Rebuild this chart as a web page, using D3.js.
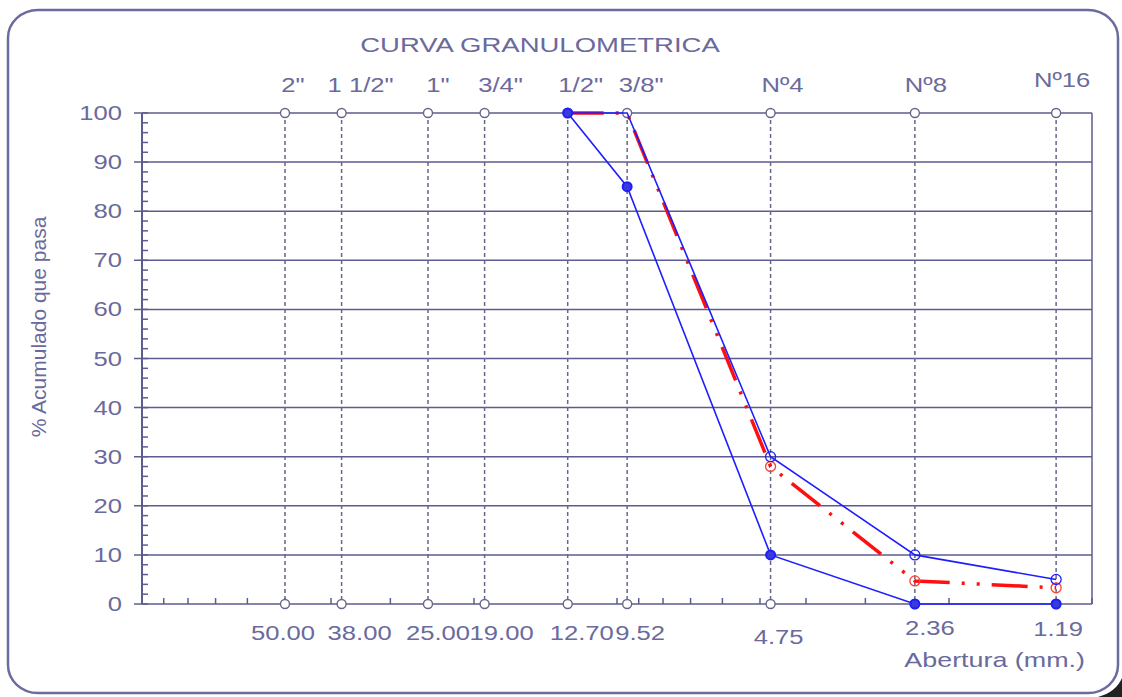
<!DOCTYPE html>
<html>

<head>
	<meta charset="UTF-8" />
	<title>Curva Granulometrica</title>
	<script src="https://d3js.org/d3.v7.min.js"></script>
	<style>
		body {
			margin: 0;
			background: white;
		}

		text {
			font-family: "Liberation Sans", Arial, sans-serif;
			fill: #6a6a9c;
		}
	</style>
</head>

<body>
	<div id="main"></div>

	<script type="text/javascript">
		// sieves
		var sieveNames = ['2"', '1 1/2"', '1"', '3/4"', '1/2"', '3/8"', 'Nº4', 'Nº8', 'Nº16'];
		var sieveSizes = [50.00, 38.00, 25.00, 19.00, 12.70, 9.52, 4.75, 2.36, 1.19];
		var sizeLabels = ['50.00', '38.00', '25.00', '19.00', '12.70', '9.52', '4.75', '2.36', '1.19'];

		// curves
		var curveSizes = [12.70, 9.52, 4.75, 2.36, 1.19];
		var upperLimit = [100, 100, 30, 10, 5];
		var lowerLimit = [100, 85, 10, 0, 0];
		var sample = [100, 100, 28, 4.7, 3.3];

		var yTicks = [0, 10, 20, 30, 40, 50, 60, 70, 80, 90, 100];

		// label nudges (layout only)
		var topDx = [8, 19, 10, 16, 13, 14, 12, 11, 6];
		var topDy = [0, 0, 0, 0, 0, 0, 0, 0, -5];
		var botDx = [-2, 18, 10, 17, 14, 13, 8, 15, 2];
		var botDy = [0, 0, 0, 0, 0, 0, 4, -5, -4];

		var width = 1122, height = 697;
		var sx = 1.22; // text is a bit wide in the original
		var gridColor = '#5c5c90';
		var blue = '#1e1eff';

		var svg = d3.select('#main').append('svg').attr('width', width).attr('height', height);

		var x = d3.scaleLog().domain([100, 1]).range([142, 1092]);
		var y = d3.scaleLinear().domain([0, 100]).range([604, 113]);

		function label(g, txt, px, py, size, anchor, scaleX) {
			return g.append('text')
				.attr('transform', 'translate(' + px + ',' + py + ') scale(' + (scaleX || sx) + ',1)')
				.attr('text-anchor', anchor || 'middle')
				.attr('font-size', size + 'px')
				.text(txt);
		}

		// frame
		svg.append('path')
			.attr('d', 'M1122,678 L1122,697 L1098,697 Q1116,692 1122,678 Z')
			.attr('fill', '#222');
		svg.append('rect')
			.attr('x', 8).attr('y', 10).attr('width', 1110).attr('height', 683)
			.attr('rx', 30).attr('ry', 28)
			.attr('fill', 'white').attr('stroke', '#6c6c9c').attr('stroke-width', 2.5);

		// horizontal gridlines
		svg.append('g').selectAll('line').data(yTicks).enter().append('line')
			.attr('x1', 134).attr('x2', x.range()[1])
			.attr('y1', d => y(d)).attr('y2', d => y(d))
			.attr('stroke', gridColor).attr('stroke-width', 1.5);

		// plot borders
		svg.append('line').attr('x1', x.range()[0]).attr('x2', x.range()[0]).attr('y1', y(100)).attr('y2', y(0))
			.attr('stroke', gridColor).attr('stroke-width', 2);
		svg.append('line').attr('x1', x.range()[1]).attr('x2', x.range()[1]).attr('y1', y(100)).attr('y2', y(0))
			.attr('stroke', gridColor).attr('stroke-width', 1.5);

		// y minor ticks
		svg.append('g').selectAll('line').data(d3.range(0, 101, 2)).enter().append('line')
			.attr('x1', x.range()[0]).attr('x2', x.range()[0] + 6)
			.attr('y1', d => y(d)).attr('y2', d => y(d))
			.attr('stroke', gridColor).attr('stroke-width', 1.5);

		// x minor ticks (log)
		svg.append('g').selectAll('line').data(x.ticks()).enter().append('line')
			.attr('x1', d => x(d)).attr('x2', d => x(d))
			.attr('y1', y(0)).attr('y2', y(0) - 6)
			.attr('stroke', gridColor).attr('stroke-width', 1.5);

		// sieve verticals
		var sieves = svg.append('g');
		sieves.selectAll('line').data(sieveSizes).enter().append('line')
			.attr('x1', d => x(d)).attr('x2', d => x(d))
			.attr('y1', y(100)).attr('y2', y(0))
			.attr('stroke', '#66668a').attr('stroke-width', 1.5).attr('stroke-dasharray', '4,3');
		sieves.selectAll('circle.top').data(sieveSizes).enter().append('circle')
			.attr('class', 'top')
			.attr('cx', d => x(d)).attr('cy', y(100)).attr('r', 4.5)
			.attr('fill', 'white').attr('stroke', '#66668a').attr('stroke-width', 1.4);
		sieves.selectAll('circle.bot').data(sieveSizes).enter().append('circle')
			.attr('class', 'bot')
			.attr('cx', d => x(d)).attr('cy', y(0)).attr('r', 4.5)
			.attr('fill', 'white').attr('stroke', '#66668a').attr('stroke-width', 1.4);

		// curves
		var line = d3.line().x(d => x(d[0])).y(d => y(d[1]));
		var sampleData = d3.zip(curveSizes, sample);
		var upperData = d3.zip(curveSizes, upperLimit);
		var lowerData = d3.zip(curveSizes, lowerLimit);

		svg.append('path').attr('d', line(sampleData))
			.attr('fill', 'none').attr('stroke', '#ff1010').attr('stroke-width', 3.5)
			.attr('stroke-dasharray', '36,12,3,12,3,12');
		svg.append('g').selectAll('circle').data(sampleData.slice(2)).enter().append('circle')
			.attr('cx', d => x(d[0])).attr('cy', d => y(d[1])).attr('r', 5)
			.attr('fill', 'none').attr('stroke', '#ff4030').attr('stroke-width', 1.3);

		svg.append('path').attr('d', line(upperData))
			.attr('fill', 'none').attr('stroke', blue).attr('stroke-width', 1.6);
		svg.append('path').attr('d', line(lowerData))
			.attr('fill', 'none').attr('stroke', blue).attr('stroke-width', 1.6);

		svg.append('g').selectAll('circle').data(upperData.slice(2)).enter().append('circle')
			.attr('cx', d => x(d[0])).attr('cy', d => y(d[1])).attr('r', 5)
			.attr('fill', 'none').attr('stroke', blue).attr('stroke-width', 1.3);
		svg.append('g').selectAll('circle').data(lowerData).enter().append('circle')
			.attr('cx', d => x(d[0])).attr('cy', d => y(d[1])).attr('r', 4.5)
			.attr('fill', '#3b3bd8').attr('stroke', blue).attr('stroke-width', 2);

		// texts
		var txt = svg.append('g');
		label(txt, 'CURVA GRANULOMETRICA', 540, 52, 21, 'middle', 1.31);
		yTicks.forEach(function (d) {
			label(txt, d, 122, y(d) + 7, 21, 'end');
		});
		sieveNames.forEach(function (d, i) {
			label(txt, d, x(sieveSizes[i]) + topDx[i], 92 + topDy[i], 21);
		});
		sizeLabels.forEach(function (d, i) {
			label(txt, d, x(sieveSizes[i]) + botDx[i], 640 + botDy[i], 21);
		});
		label(txt, 'Abertura (mm.)', 1085, 667, 21, 'end', 1.28);

		txt.append('text')
			.attr('transform', 'translate(46,327) rotate(-90)')
			.attr('text-anchor', 'middle')
			.attr('font-size', '21px')
			.text('% Acumulado que pasa');
	</script>
</body>

</html>
